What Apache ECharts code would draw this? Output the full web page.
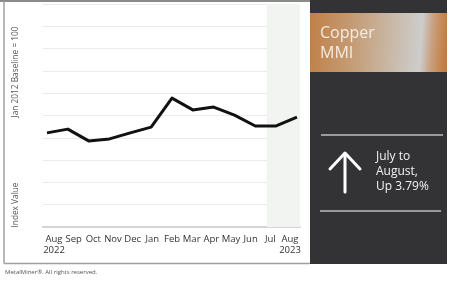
<!DOCTYPE html>
<html>
<head>
<meta charset="utf-8">
<script src="https://cdn.jsdelivr.net/npm/echarts@6/dist/echarts.min.js"></script>
<style>
html,body{margin:0;padding:0;background:#fff;}
#chart{width:450px;height:282px;}
</style>
</head>
<body>
<div id="chart"></div>
<script>
// Month categories (Aug 2022 – Aug 2023)
var categories = ['Aug\n2022','Sep','Oct','Nov','Dec','Jan','Feb','Mar','Apr','May','Jun','Jul','Aug\n2023'];
// Index values (relative grid units)
var mmiValues = [4.22, 4.39, 3.86, 3.95, 4.22, 4.48, 5.78, 5.25, 5.38, 5.02, 4.53, 4.53, 4.93];
// Highlighted period (Jul–Aug 2023) as category positions
var highlightRange = [10.55, 12.15];

var FONT = '"Open Sans", "Noto Sans", sans-serif';
var chart = echarts.init(document.getElementById('chart'), null, {renderer:'canvas'});

var points = mmiValues.map(function(v, i){ return [i, v]; });

var option = {
  animation: false,
  backgroundColor: '#ffffff',
  grid: [
    {left: 42.8, top: 4, width: 257.3, height: 223, containLabel: false},
    {left: 54, top: 226, width: 236, height: 1, containLabel: false}
  ],
  xAxis: [
    {
      type: 'value', gridIndex: 0, min: -0.2, max: 12.15, position: 'top',
      axisLine: {show: true, lineStyle: {color: '#d4d4d4', width: 2}},
      axisTick: {show: false}, axisLabel: {show: false}, splitLine: {show: false}
    },
    {
      type: 'category', gridIndex: 1, data: categories, boundaryGap: false,
      axisLine: {show: false}, axisTick: {show: false}, splitLine: {show: false},
      axisLabel: {
        show: true, interval: 0, margin: 7, color: '#333', fontSize: 9.5,
        fontFamily: FONT, lineHeight: 11
      }
    }
  ],
  yAxis: [
    {
      type: 'value', gridIndex: 0, min: 0, max: 10, interval: 1,
      axisLine: {show: false}, axisTick: {show: false}, axisLabel: {show: false},
      splitLine: {show: true, lineStyle: {color: '#ebebeb', width: 1}}
    },
    {
      type: 'value', gridIndex: 1, show: false
    }
  ],
  series: [
    {
      type: 'line', xAxisIndex: 0, yAxisIndex: 0, data: points,
      showSymbol: false, symbol: 'none',
      lineStyle: {color: '#111', width: 3, join: 'round'},
      z: 5,
      markArea: {
        silent: true,
        itemStyle: {color: '#f2f4f2'},
        data: [[{xAxis: highlightRange[0], yAxis: 0}, {xAxis: highlightRange[1], yAxis: 10}]]
      }
    }
  ],
  graphic: [
    // outer frame
    {type: 'line', shape: {x1: 0, y1: 1, x2: 310, y2: 1}, style: {stroke: '#8a8a8a', lineWidth: 2}, z: 10},
    {type: 'line', shape: {x1: 4, y1: 1, x2: 4, y2: 263.5}, style: {stroke: '#a0a0a0', lineWidth: 1.5}, z: 10},
    {type: 'line', shape: {x1: 4, y1: 263.5, x2: 310, y2: 263.5}, style: {stroke: '#a0a0a0', lineWidth: 1.5}, z: 10},
    // axis titles
    {type: 'text', x: 16, y: 72, rotation: Math.PI/2,
      style: {text: 'Jan 2012 Baseline = 100', fill: '#555', font: '8.3px ' + FONT, align: 'center', verticalAlign: 'middle'}},
    {type: 'text', x: 16, y: 205, rotation: Math.PI/2,
      style: {text: 'Index Value', fill: '#555', font: '8.3px ' + FONT, align: 'center', verticalAlign: 'middle'}},
    // footer
    {type: 'text', x: 5, y: 272,
      style: {text: 'MetalMiner\u00ae. All rights reserved.', fill: '#555', font: '6px ' + FONT, verticalAlign: 'middle'}},
    // dark panel
    {type: 'rect', shape: {x: 310, y: 0, width: 137, height: 264}, style: {fill: '#333235'}, z: 10},
    {type: 'rect', shape: {x: 310, y: 13, width: 137, height: 59},
      style: {fill: new echarts.graphic.LinearGradient(0, 0, 1, 0.15, [
        {offset: 0, color: '#bf8048'},
        {offset: 0.3, color: '#c49a72'},
        {offset: 0.6, color: '#c8b8a6'},
        {offset: 0.82, color: '#cdcdcd'},
        {offset: 0.9, color: '#c8a080'},
        {offset: 1, color: '#c27e42'}
      ])}, z: 11},
    {type: 'text', x: 320, y: 33, style: {text: 'Copper', fill: '#f6ece2', font: '16px ' + FONT, verticalAlign: 'middle'}, z: 12},
    {type: 'text', x: 320, y: 53, style: {text: 'MMI', fill: '#f6ece2', font: '16px ' + FONT, verticalAlign: 'middle'}, z: 12},
    {type: 'line', shape: {x1: 321, y1: 135, x2: 443, y2: 135}, style: {stroke: '#9a9a9a', lineWidth: 2}, z: 12},
    {type: 'line', shape: {x1: 320, y1: 211, x2: 441, y2: 211}, style: {stroke: '#9a9a9a', lineWidth: 2}, z: 12},
    // arrow
    {type: 'polyline', shape: {points: [[330, 169], [345, 153], [360, 169]]}, style: {stroke: '#fff', lineWidth: 3, fill: null, lineCap: 'round', lineJoin: 'round'}, z: 12},
    {type: 'line', shape: {x1: 345, y1: 154, x2: 345, y2: 192}, style: {stroke: '#fff', lineWidth: 3, lineCap: 'round'}, z: 12},
    {type: 'text', x: 376, y: 157, style: {text: 'July to', fill: '#f2f2f2', font: '12px ' + FONT, verticalAlign: 'middle'}, z: 12},
    {type: 'text', x: 376, y: 172, style: {text: 'August,', fill: '#f2f2f2', font: '12px ' + FONT, verticalAlign: 'middle'}, z: 12},
    {type: 'text', x: 376, y: 187, style: {text: 'Up 3.79%', fill: '#f2f2f2', font: '12px ' + FONT, verticalAlign: 'middle'}, z: 12}
  ]
};
chart.setOption(option);
</script>
</body>
</html>
